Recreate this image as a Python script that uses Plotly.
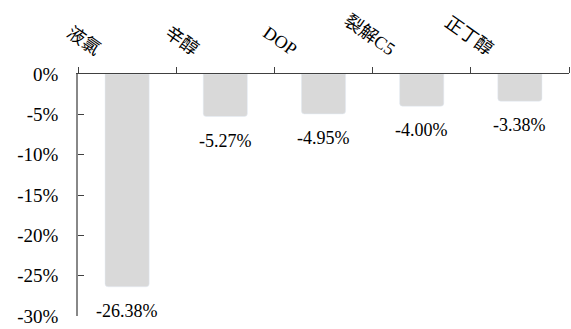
import plotly.graph_objects as go

categories = ["液氯", "辛醇", "DOP", "裂解C5", "正丁醇"]
values = [-26.38, -5.27, -4.95, -4.00, -3.38]
labels = ["-26.38%", "-5.27%", "-4.95%", "-4.00%", "-3.38%"]
ytick_vals = [0, -5, -10, -15, -20, -25, -30]
ytick_text = ["0%", "-5%", "-10%", "-15%", "-20%", "-25%", "-30%"]

SERIF = "Liberation Serif, Times New Roman, serif"

fig = go.Figure(go.Bar(
    x=categories, y=values,
    marker=dict(color="#d9d9d9", cornerradius=3),
    width=0.45,
))
for c, v, t in zip(categories, values, labels):
    fig.add_annotation(x=c, y=v, text=t, showarrow=False, yanchor="middle",
                       yshift=-24, font=dict(family=SERIF, size=18, color="#000"))

fig.update_layout(
    width=571, height=329,
    margin=dict(l=78, r=2, t=74, b=10),
    plot_bgcolor="white", paper_bgcolor="white",
    showlegend=False,
    font=dict(family=SERIF, color="#000"),
)
fig.update_xaxes(
    side="top", tickangle=35, ticks="outside", ticklen=6, tickson="boundaries",
    showline=True, linecolor="#404040", linewidth=1, tickcolor="#404040",
    tickfont=dict(family="Liberation Serif, Noto Sans CJK SC, serif", size=18),
    ticklabelshift=-27, ticklabelstandoff=8,
    showgrid=False, zeroline=False,
)
fig.update_yaxes(
    range=[-30, 0], tickvals=ytick_vals, ticktext=ytick_text,
    ticks="inside", ticklen=6, showline=True, linecolor="#888888", linewidth=1.5,
    tickcolor="#404040", ticklabeloverflow="allow",
    tickfont=dict(family=SERIF, size=19), ticklabelstandoff=14,
    showgrid=False, zeroline=False,
)
fig.write_html("out.html")
